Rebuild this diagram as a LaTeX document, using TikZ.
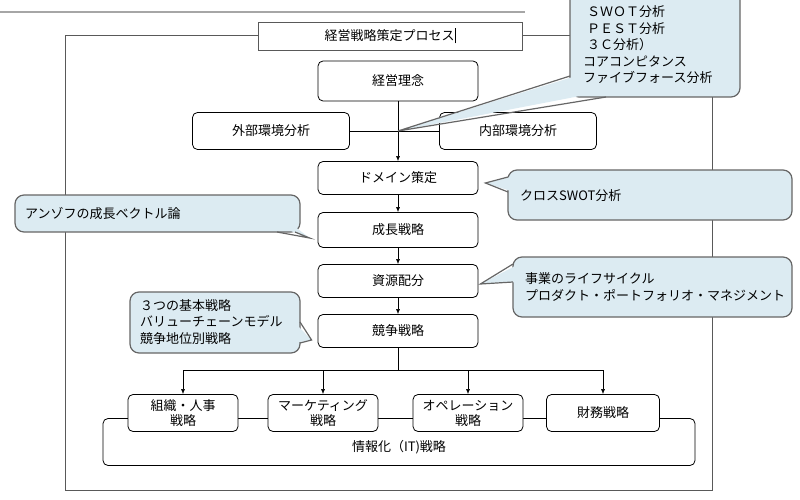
\documentclass[tikz,border=0pt]{standalone}
\usepackage{fontspec}
\setmainfont{Noto Sans CJK JP}
\usetikzlibrary{arrows.meta,calc}
\definecolor{cf}{HTML}{DCEBF2}
\begin{document}
\begin{tikzpicture}[x=1pt,y=-1pt,
  box/.style={draw=black,fill=white,rounded corners=5pt,line width=0.8pt,align=center,inner sep=0pt,font=\fontsize{13}{15}\selectfont},
  arr/.style={-{Latex[length=5pt,width=4pt]},line width=0.6pt},
  cfill/.style={fill=cf},
  cdraw/.style={draw=gray!80!black,line width=1.2pt},
  ctext/.style={anchor=west,align=left,inner sep=0pt,font=\fontsize{13}{16.5}\selectfont}]
\clip (0,0) rectangle (800,500);
\useasboundingbox (0,0) rectangle (800,500);
% top line and frame
\draw[gray!70,line width=1.2pt] (0,12) -- (525,12);
\draw[gray!70!black,line width=1pt] (65,36) rectangle (712,490);
% title
\node[draw=gray!70!black,fill=white,minimum width=264pt,minimum height=28pt,inner sep=0pt,font=\fontsize{13}{15}\selectfont,line width=0.8pt] (title) at (390,36) {経営戦略策定プロセス\rule[-3pt]{0.8pt}{15pt}};
% nodes
\node[box,minimum width=160pt,minimum height=40pt] (rinen) at (398,81) {経営理念};
\node[box,minimum width=157pt,minimum height=37pt] (gai) at (271,131) {外部環境分析};
\node[box,minimum width=157pt,minimum height=37pt] (nai) at (518,131) {内部環境分析};
\node[box,minimum width=160pt,minimum height=33pt] (dom) at (398,178) {ドメイン策定};
\node[box,minimum width=160pt,minimum height=35pt] (sei) at (398,230) {成長戦略};
\node[box,minimum width=160pt,minimum height=33pt] (shi) at (398,281) {資源配分};
\node[box,minimum width=160pt,minimum height=33pt] (kyo) at (398,331) {競争戦略};
\node[box,minimum width=592pt,minimum height=47pt] (it) at (399,442) {};
\node[font=\fontsize{13}{15}\selectfont] (itl) at (399,447) {情報化（IT)戦略};
\node[box,minimum width=110pt,minimum height=37pt] (so) at (183,413) {組織・人事\\戦略};
\node[box,minimum width=110pt,minimum height=37pt] (ma) at (323,413) {マーケティング\\戦略};
\node[box,minimum width=110pt,minimum height=37pt] (op) at (468,413) {オペレーション\\戦略};
\node[box,minimum width=113pt,minimum height=37pt] (za) at (603,413) {財務戦略};
% connectors
\coordinate (j) at (rinen.south |- gai.east);
\draw[line width=0.8pt] (gai.east) -- (nai.west);
\draw[arr] (rinen) -- (dom);
\draw[arr] (dom) -- (sei);
\draw[arr] (sei) -- (shi);
\draw[arr] (shi) -- (kyo);
\coordinate (b) at (398,370);
\draw[line width=0.8pt] (kyo) -- (b);
\draw[arr] (b) -| (so.north);
\draw[arr] (b) -| (ma.north);
\draw[arr] (b) -| (op.north);
\draw[arr] (b) -| (za.north);
% 1 SWOT
\filldraw[cfill,cdraw,rounded corners=9pt] (570,-10) rectangle (740,97);
\fill[cf] (576,76) -- (j) -- (606,91) -- (576,91) -- cycle;
\draw[cdraw] (570,76) -- (j) -- (606,97);
\node[ctext] (c1) at (583,45) {\hspace*{4pt}ＳＷＯＴ分析\\\hspace*{4pt}ＰＥＳＴ分析\\\hspace*{4pt}３Ｃ分析）\\コアコンピタンス\\ファイブフォース分析};
% 2 cross SWOT
\coordinate (t2) at ($(dom.east)+(7,5)$);
\filldraw[cfill,cdraw,rounded corners=9pt] (508,170) rectangle (792,220);
\fill[cf] (514,176) -- (t2) -- (514,192) -- cycle;
\draw[cdraw] (508,177) -- (t2) -- (508,192);
\node[ctext] at (520,196) {クロスSWOT分析};
% 3 Ansoff
\coordinate (t3) at ($(sei.west)+(-8,8)$);
\filldraw[cfill,cdraw,rounded corners=9pt] (15,195) rectangle (300,232);
\fill[cf] (277,226) -- (t3) -- (294,226) -- cycle;
\draw[cdraw] (277,232) -- (t3) -- (295,232);
\node[ctext] at (25,214) {アンゾフの成長ベクトル論};
% 4 lifecycle
\coordinate (t4) at ($(shi.east)+(2,3)$);
\filldraw[cfill,cdraw,rounded corners=9pt] (513,257) rectangle (792,317);
\fill[cf] (519,264) -- (t4) -- (519,282) -- cycle;
\draw[cdraw] (513,264) -- (t4) -- (513,282);
\node[ctext] at (525,287) {事業のライフサイクル\\プロダクト・ポートフォリオ・マネジメント};
% 5 basic strategies
\coordinate (t5) at ($(kyo.west)+(-6,9)$);
\filldraw[cfill,cdraw,rounded corners=9pt] (130,292) rectangle (300,353);
\fill[cf] (294,322) -- (t5) -- (294,343) -- cycle;
\draw[cdraw] (300,322) -- (t5) -- (300,343);
\node[ctext] at (140,322) {３つの基本戦略\\バリューチェーンモデル\\競争地位別戦略};
\end{tikzpicture}
\end{document}
